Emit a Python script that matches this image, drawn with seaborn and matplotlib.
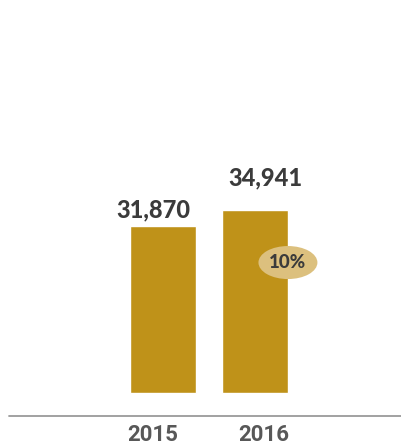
import matplotlib
matplotlib.use("Agg")
import matplotlib.pyplot as plt
from matplotlib.patches import Ellipse
import seaborn as sns
import pandas as pd

# Data
years = ["2015", "2016"]
values = [31870, 34941]
growth_label = "10%"

BAR_COLOR = "#BF9219"
BADGE_COLOR = "#DCC07E"
VALUE_COLOR = "#3B3B3B"
TICK_COLOR = "#585858"

sns.set_theme(style="white")
plt.rcParams["font.family"] = ["Lato", "DejaVu Sans"]

df = pd.DataFrame({"year": years, "value": values})

fig = plt.figure(figsize=(4.02, 4.47), dpi=100)
ax = fig.add_axes([0, 0, 1, 1])

sns.barplot(data=df, x="year", y="value", color=BAR_COLOR, width=0.72,
            saturation=1, ax=ax)

ax.set_xlim(-1.77, 2.60)
ax.set_ylim(-10300, 75000)
ax.axis("off")

# baseline rule below the bars
ax.axhline(-4400, xmin=9 / 402, xmax=1, color="#9A9A9A", lw=1.3)

# value labels above the bars (pixel offsets)
label_offsets = [(-9, 9), (11, 25)]
for i, (v, (dx, dy)) in enumerate(zip(values, label_offsets)):
    ax.annotate(f"{v:,}", xy=(i, v), xytext=(dx, dy),
                textcoords="offset pixels", ha="center", va="baseline",
                fontsize=17, fontweight="black", color=VALUE_COLOR)

# category labels under the rule
tick_offsets = [-10.5, 8.5]
for i, (yr, dx) in enumerate(zip(years, tick_offsets)):
    ax.annotate(yr, xy=(i, -9160), xytext=(dx, 0),
                textcoords="offset pixels", ha="center", va="baseline",
                fontsize=16, fontweight="bold", color=TICK_COLOR,
                family=["Roboto", "DejaVu Sans"])

# growth badge sitting on the right edge of the 2016 bar
bar = ax.patches[1]
bx = bar.get_x() + bar.get_width()
by = 24900
ax.add_patch(Ellipse((bx, by), width=0.641, height=6300,
                     facecolor=BADGE_COLOR, edgecolor="none", zorder=3))
ax.text(bx, by, growth_label, ha="center", va="center",
        fontsize=13.5, fontweight="black", color=VALUE_COLOR, zorder=4)

fig.savefig("out.png", dpi=100)
